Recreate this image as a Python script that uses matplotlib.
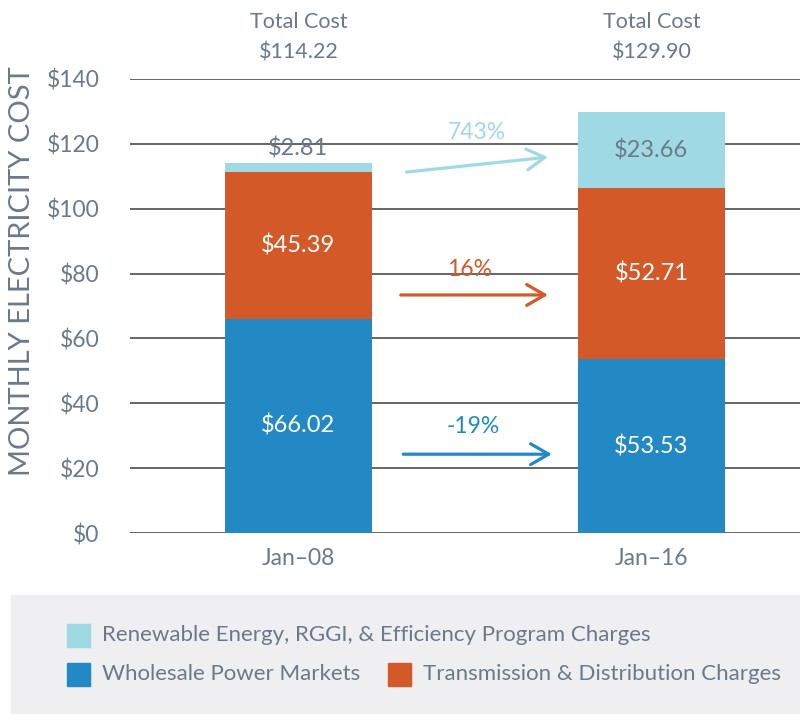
import matplotlib
matplotlib.use("Agg")
import matplotlib.pyplot as plt
from matplotlib.patches import Rectangle

# --- data ---
periods = ["Jan–08", "Jan–16"]
wholesale = [66.02, 53.53]
transmission = [45.39, 52.71]
renewable = [2.81, 23.66]
totals = [114.22, 129.90]
changes = ["743%", "16%", "-19%"]
yticks = [0, 20, 40, 60, 80, 100, 120, 140]

C_LIGHT = "#9fdae4"
C_ORANGE = "#d35a28"
C_BLUE = "#2289c4"
C_TEXT = "#6a7a8a"
C_GRID = "#3c3c3c"

plt.rcParams["font.family"] = ["Lato", "DejaVu Sans"]

fig = plt.figure(figsize=(8, 7.14), dpi=100)
ax = fig.add_axes([0.1625, 0.2535, 0.8375, 0.6359])

x = list(range(len(periods)))
w = 0.416
ax.bar(x, wholesale, w, color=C_BLUE, zorder=3)
ax.bar(x, transmission, w, bottom=wholesale, color=C_ORANGE, zorder=3)
bottom2 = [a + b for a, b in zip(wholesale, transmission)]
ax.bar(x, renewable, w, bottom=bottom2, color=C_LIGHT, zorder=3)

ax.set_xlim(-0.477, 1.421)
ax.set_ylim(0, 140)
ax.set_yticks(yticks)
ax.set_yticklabels([f"${v}" for v in yticks], fontsize=16.5, color=C_TEXT)
ax.set_xticks(x)
ax.set_xticklabels(periods, fontsize=16.5, color=C_TEXT)
ax.tick_params(axis="both", length=0)
ax.tick_params(axis="y", pad=22)
ax.tick_params(axis="x", pad=11)
for s in ax.spines.values():
    s.set_visible(False)
for v in yticks:
    ax.axhline(v, color=C_GRID, lw=1.1, zorder=1)
fig.text(22 / 800, 1 - 271 / 714, "MONTHLY ELECTRICITY COST", rotation=90,
         ha="center", va="center", fontsize=21, color=C_TEXT)

# segment labels
for i in x:
    ax.text(i, wholesale[i] / 2, f"${wholesale[i]:.2f}", ha="center", va="center",
            color="white", fontsize=17, zorder=4)
    ax.text(i, wholesale[i] + transmission[i] / 2, f"${transmission[i]:.2f}",
            ha="center", va="center", color="white", fontsize=17, zorder=4)
# small renewable segment label sits above the first bar
ax.text(0, totals[0] + 0.8, f"${renewable[0]:.2f}", ha="center", va="bottom",
        color=C_TEXT, fontsize=17, zorder=4)
ax.text(1, bottom2[1] + renewable[1] / 2, f"${renewable[1]:.2f}", ha="center",
        va="center", color=C_TEXT, fontsize=17, zorder=4)

# total cost headers
for i in x:
    ax.text(i, 157.5, "Total Cost", ha="center", va="center", color=C_TEXT,
            fontsize=15.5, clip_on=False)
    ax.text(i, 148.3, f"${totals[i]:.2f}", ha="center", va="center",
            color=C_TEXT, fontsize=15.5, clip_on=False)

# change arrows
arrow_specs = [
    ((0.307, 111.3), (0.707, 115.9), C_LIGHT, (0.506, 123.6)),
    ((0.290, 73.4), (0.707, 73.4), C_ORANGE, (0.486, 81.1)),
    ((0.297, 24.3), (0.718, 24.3), C_BLUE, (0.494, 32.7)),
]
for (start, end, col, lab), txt in zip(arrow_specs, changes):
    ax.annotate("", xy=end, xytext=start,
                arrowprops=dict(arrowstyle="->,head_length=1.3,head_width=0.75",
                                color=col, lw=2.3, shrinkA=0, shrinkB=0), zorder=5)
    ax.text(lab[0], lab[1], txt, ha="center", va="center", color=col,
            fontsize=16.5, zorder=5)

# legend panel
fig.patches.append(Rectangle((11 / 800, 0), 789 / 800, 119 / 714,
                             transform=fig.transFigure, color="#efeff2", zorder=0))
legend_items = [
    (C_LIGHT, "Renewable Energy, RGGI, & Efficiency Program Charges", 67, 635),
    (C_BLUE, "Wholesale Power Markets", 67, 674),
    (C_ORANGE, "Transmission & Distribution Charges", 388, 674),
]
for col, label, px, py in legend_items:
    fig.patches.append(Rectangle((px / 800, 1 - (py + 11.5) / 714), 23 / 800, 23 / 714,
                                 transform=fig.transFigure, color=col, zorder=1))
    fig.text((px + 35) / 800, 1 - py / 714, label, ha="left", va="center",
             color=C_TEXT, fontsize=16)

fig.savefig("out.png", dpi=100)
